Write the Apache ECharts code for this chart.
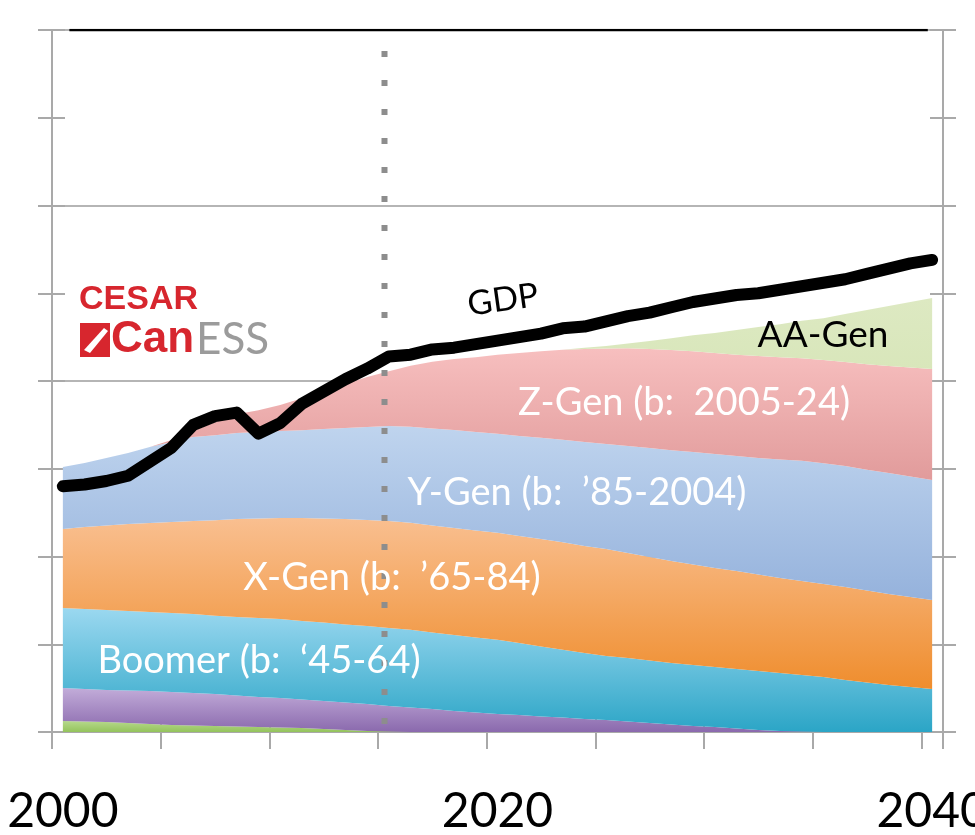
<!DOCTYPE html>
<html>
<head>
<meta charset="utf-8">
<script src="https://cdn.jsdelivr.net/npm/echarts@6/dist/echarts.min.js"></script>
<style>
  html, body { margin: 0; padding: 0; background: #fff; }
  #chart { width: 975px; height: 835px; }
</style>
</head>
<body>
<div id="chart"></div>
<script>
// Years on the category axis (one band per year)
const years = ['2000','2001','2002','2003','2004','2005','2006','2007','2008','2009',
  '2010','2011','2012','2013','2014','2015','2016','2017','2018','2019',
  '2020','2021','2022','2023','2024','2025','2026','2027','2028','2029',
  '2030','2031','2032','2033','2034','2035','2036','2037','2038','2039','2040'];

// Years that carry a tick label
const labelledYears = ['2000', '2020', '2040'];

// Total GDP
const gdp = [1.40,1.41,1.43,1.46,1.54,1.62,1.75,1.80,1.82,1.70,
  1.76,1.87,1.94,2.01,2.07,2.14,2.15,2.18,2.19,2.21,
  2.23,2.25,2.27,2.30,2.31,2.34,2.37,2.39,2.42,2.45,
  2.47,2.49,2.50,2.52,2.54,2.56,2.58,2.61,2.64,2.67,2.69];

// GDP contribution by generation (stacked, bottom to top)
const genPre = [0.063,0.060,0.057,0.051,0.046,0.040,0.037,0.034,0.031,0.028,
  0.026,0.023,0.017,0.011,0.006,0.003,0,0,0,0,
  0,0,0,0,0,0,0,0,0,0,
  0,0,0,0,0,0,0,0,0,0,0];
const genSilent = [0.188,0.185,0.182,0.185,0.188,0.188,0.185,0.182,0.177,0.171,
  0.168,0.162,0.160,0.157,0.154,0.145,0.140,0.131,0.120,0.111,
  0.103,0.097,0.088,0.083,0.074,0.068,0.060,0.051,0.043,0.034,
  0.028,0.020,0.011,0.006,0.003,0,0,0,0,0,0];
const genBoomer = [0.456,0.456,0.456,0.453,0.450,0.450,0.450,0.447,0.447,0.450,
  0.450,0.447,0.447,0.444,0.444,0.444,0.442,0.436,0.433,0.427,
  0.422,0.410,0.399,0.385,0.376,0.365,0.362,0.356,0.350,0.348,
  0.342,0.339,0.336,0.330,0.322,0.313,0.296,0.282,0.268,0.256,0.245];
const genX = [0.450,0.467,0.481,0.496,0.507,0.519,0.530,0.544,0.558,0.567,
  0.575,0.587,0.593,0.601,0.604,0.610,0.610,0.610,0.610,0.610,
  0.610,0.610,0.613,0.613,0.610,0.610,0.598,0.590,0.581,0.573,
  0.564,0.558,0.550,0.541,0.536,0.530,0.530,0.524,0.519,0.513,0.507];
const genY = [0.353,0.365,0.385,0.405,0.433,0.456,0.479,0.484,0.490,0.493,
  0.496,0.501,0.510,0.519,0.530,0.541,0.547,0.553,0.558,0.561,
  0.564,0.570,0.576,0.584,0.593,0.598,0.610,0.621,0.632,0.641,
  0.650,0.655,0.664,0.675,0.684,0.689,0.689,0.689,0.689,0.687,0.684];
const genZ = [0,0,0,0,0,0.011,0.034,0.074,0.108,0.125,
  0.148,0.182,0.217,0.251,0.285,0.313,0.348,0.379,0.405,0.427,
  0.450,0.473,0.493,0.513,0.530,0.544,0.556,0.564,0.570,0.573,
  0.575,0.578,0.581,0.584,0.584,0.587,0.593,0.601,0.610,0.621,0.632];
const genAA = [0,0,0,0,0,0,0,0,0,0,
  0,0,0,0,0,0,0,0,0,0,
  0,0,0,0,0.006,0.014,0.028,0.046,0.068,0.091,
  0.114,0.140,0.165,0.188,0.214,0.239,0.274,0.308,0.342,0.373,0.405];

// Boundary between history and projection
const projectionStart = 2014.8;
const yMax = 4;
const yStep = 0.5;

const chart = echarts.init(document.getElementById('chart'), null, { renderer: 'canvas' });

const axisGrey = '#a9a9a9';
const grad = (top, bottom) => new echarts.graphic.LinearGradient(0, 0, 0, 1, [
  { offset: 0, color: top }, { offset: 1, color: bottom }
]);

function band(name, data, top, bottom) {
  return {
    name, type: 'line', stack: 'gen', data,
    xAxisIndex: 0, yAxisIndex: 0,
    showSymbol: false, symbol: 'none',
    lineStyle: { width: 0 },
    areaStyle: { color: grad(top, bottom), opacity: 1 },
    z: 2, silent: true
  };
}

const bigFont = 'Lato';

function seriesLabel(text, x, y, size, color, rotation) {
  return {
    type: 'text', x, y, rotation: rotation || 0, z: 10,
    style: { text, fill: color, fontSize: size, fontFamily: bigFont, align: 'center', verticalAlign: 'middle' }
  };
}

chart.setOption({
  animation: false,
  backgroundColor: '#ffffff',
  grid: { left: 52, right: 32, top: 30, bottom: 103, containLabel: false, outerBoundsMode: 'none' },
  xAxis: [
    {
      type: 'category', data: years, boundaryGap: true, position: 'bottom',
      axisLine: { show: true, lineStyle: { color: axisGrey, width: 2 } },
      axisTick: { show: true, interval: 4, length: 17, inside: false, lineStyle: { color: axisGrey, width: 2 } },
      axisLabel: {
        show: true, margin: 56, fontSize: 48, fontFamily: bigFont, color: '#000',
        interval: (i, v) => labelledYears.includes(v), hideOverlap: false
      },
      splitLine: { show: false }
    },
    {
      type: 'category', data: years, boundaryGap: true, position: 'bottom',
      axisLine: { show: false },
      axisTick: { show: true, interval: 4, length: 15, inside: true, lineStyle: { color: axisGrey, width: 2 } },
      axisLabel: { show: false }, splitLine: { show: false }
    },
    { type: 'value', min: 1999.5, max: 2040.5, show: false }
  ],
  yAxis: [
    {
      type: 'value', min: 0, max: yMax, interval: yStep, position: 'left',
      axisLine: { show: true, lineStyle: { color: axisGrey, width: 2 } },
      axisTick: { show: true, length: 14, inside: false, lineStyle: { color: axisGrey, width: 2 } },
      axisLabel: { show: false }, splitLine: { show: false }
    },
    {
      type: 'value', min: 0, max: yMax, interval: yStep, position: 'left',
      axisLine: { show: false },
      axisTick: { show: true, length: 13, inside: true, lineStyle: { color: axisGrey, width: 2 } },
      axisLabel: { show: false }, splitLine: { show: false }
    },
    {
      type: 'value', min: 0, max: yMax, interval: yStep, position: 'right',
      axisLine: { show: true, lineStyle: { color: axisGrey, width: 2 } },
      axisTick: { show: true, length: 13, inside: false, lineStyle: { color: axisGrey, width: 2 } },
      axisLabel: { show: false }, splitLine: { show: false }
    },
    {
      type: 'value', min: 0, max: yMax, interval: yStep, position: 'right',
      axisLine: { show: false },
      axisTick: { show: true, length: 13, inside: true, lineStyle: { color: axisGrey, width: 2 } },
      axisLabel: { show: false }, splitLine: { show: false }
    },
    {
      type: 'value', min: 0, max: yMax, interval: 1, position: 'left',
      axisLine: { show: false }, axisTick: { show: false }, axisLabel: { show: false },
      splitLine: { show: true, lineStyle: { color: '#b5b5b5', width: 2 } }
    }
  ],
  series: [
    band('Pre-1925', genPre, '#b6d98c', '#94c35c'),
    band("Silent (b: '25-44)", genSilent, '#c2acd9', '#8a69ad'),
    band("Boomer (b: '45-64)", genBoomer, '#9bd8f0', '#2ba5c6'),
    band("X-Gen (b: '65-84)", genX, '#f9bf90', '#ef8d2d'),
    band("Y-Gen (b: '85-2004)", genY, '#bfd4ee', '#95b2dc'),
    band('Z-Gen (b: 2005-24)', genZ, '#f7bfbf', '#e19b9b'),
    band('AA-Gen', genAA, '#dde9c2', '#d2e3b0'),
    {
      name: 'GDP', type: 'line', data: gdp, xAxisIndex: 0, yAxisIndex: 0,
      showSymbol: false, symbol: 'none', smooth: false,
      lineStyle: { color: '#000', width: 12, cap: 'round', join: 'round' },
      z: 5, silent: true
    },
    {
      name: 'top rule', type: 'line', xAxisIndex: 2, yAxisIndex: 0,
      data: [[2000.3, yMax], [2039.8, yMax]],
      showSymbol: false, symbol: 'none',
      lineStyle: { color: '#000', width: 2.5 }, z: 4, silent: true
    },
    {
      name: 'projection', type: 'line', xAxisIndex: 2, yAxisIndex: 0,
      data: [[projectionStart, 0], [projectionStart, yMax]],
      showSymbol: false, symbol: 'none',
      lineStyle: { color: '#8d8d8d', width: 6, type: [6, 23], dashOffset: -8 },
      z: 6, silent: true
    }
  ],
  graphic: [
    // logo
    { type: 'text', left: 79, top: 283, z: 10,
      style: { text: 'CESAR', fill: '#d7262e', font: 'bold 34px "Liberation Sans"' } },
    { type: 'rect', left: 80, top: 323, z: 10, shape: { width: 30, height: 34 },
      style: { fill: '#d7262e' } },
    { type: 'polygon', z: 11, shape: { points: [[84, 350], [104, 328], [108, 331], [90, 353]] },
      style: { fill: '#ffffff' } },
    { type: 'text', left: 111, top: 318, z: 10,
      style: { text: 'Can', fill: '#d7262e', font: 'bold 44px "Liberation Sans"' } },
    { type: 'text', left: 196, top: 318, z: 10,
      style: { text: 'ESS', fill: '#9b9b9b', font: '44px Lato' } },
    // series labels
    seriesLabel('GDP', 503, 300, 34, '#000', 0.14),
    seriesLabel('AA-Gen', 823, 335, 37, '#000'),
    seriesLabel('Z-Gen (b:  2005-24)', 684, 403, 38, '#fff'),
    seriesLabel('Y-Gen (b:  \u201985-2004)', 577, 493, 38, '#fff'),
    seriesLabel('X-Gen (b:  \u201965-84)', 392, 578, 38, '#fff'),
    seriesLabel('Boomer (b:  \u201845-64)', 259, 661, 38, '#fff')
  ]
});
</script>
</body>
</html>
